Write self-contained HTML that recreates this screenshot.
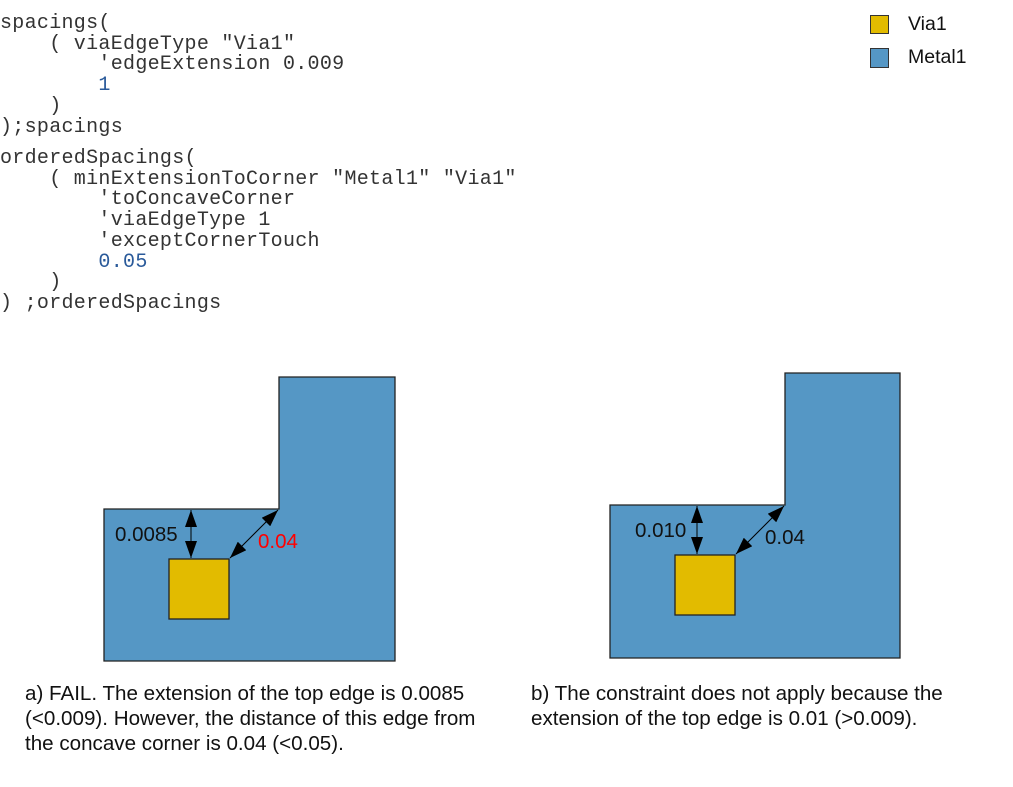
<!DOCTYPE html>
<html><head><style>
html,body{margin:0;padding:0;background:#fff;width:1013px;height:787px;overflow:hidden;position:relative}
.code{position:absolute;left:0;font-family:"Liberation Mono",monospace;font-size:20px;letter-spacing:0.3px;color:#333;white-space:pre;line-height:20.7px}
.cap{position:absolute;font-family:"Liberation Sans",sans-serif;font-size:20.6px;line-height:25px;color:#111}
.lg{position:absolute;font-family:"Liberation Sans",sans-serif;font-size:19.5px;color:#111}
.b{color:#2a5a9a}
</style></head><body>
<div class="code" style="top:14px">spacings(
    ( viaEdgeType "Via1"
        'edgeExtension 0.009
        <span class="b">1</span>
    )
);spacings</div>
<div class="code" style="top:149px">orderedSpacings(
    ( minExtensionToCorner "Metal1" "Via1"
        'toConcaveCorner
        'viaEdgeType 1
        'exceptCornerTouch
        <span class="b">0.05</span>
    )
) ;orderedSpacings</div>

<div style="position:absolute;left:870px;top:15px;width:17px;height:17px;background:#e2bb00;border:1px solid #333"></div>
<div class="lg" style="left:908px;top:13px">Via1</div>
<div style="position:absolute;left:870px;top:48px;width:17px;height:18px;background:#5597c5;border:1px solid #333"></div>
<div class="lg" style="left:908px;top:46px">Metal1</div>

<svg width="1013" height="787" style="position:absolute;left:0;top:0" xmlns="http://www.w3.org/2000/svg">
<defs>
<marker id="ah2" viewBox="0 0 10 10" refX="10" refY="5" markerWidth="17" markerHeight="12" preserveAspectRatio="none" markerUnits="userSpaceOnUse" orient="auto-start-reverse"><path d="M0,0 L10,5 L0,10 Z" fill="#000"/></marker>
</defs>
<path d="M104,509 H279 V377 H395 V661 H104 Z" fill="#5597c5" stroke="#222" stroke-width="1.3"/>
<rect x="169" y="559" width="60" height="60" fill="#e2bb00" stroke="#222" stroke-width="1.3"/>
<line x1="191" y1="510" x2="191" y2="558" stroke="#000" stroke-width="1" marker-start="url(#ah2)" marker-end="url(#ah2)"/>
<line x1="278" y1="510" x2="230" y2="558" stroke="#000" stroke-width="1" marker-start="url(#ah2)" marker-end="url(#ah2)"/>
<text x="115" y="541" font-family="Liberation Sans,sans-serif" font-size="20.5" fill="#111">0.0085</text>
<text x="258" y="548" font-family="Liberation Sans,sans-serif" font-size="20.5" fill="#f00">0.04</text>

<path d="M610,505 H785 V373 H900 V658 H610 Z" fill="#5597c5" stroke="#222" stroke-width="1.3"/>
<rect x="675" y="555" width="60" height="60" fill="#e2bb00" stroke="#222" stroke-width="1.3"/>
<line x1="697" y1="506" x2="697" y2="554" stroke="#000" stroke-width="1" marker-start="url(#ah2)" marker-end="url(#ah2)"/>
<line x1="784" y1="506" x2="736" y2="554" stroke="#000" stroke-width="1" marker-start="url(#ah2)" marker-end="url(#ah2)"/>
<text x="635" y="537" font-family="Liberation Sans,sans-serif" font-size="20.5" fill="#111">0.010</text>
<text x="765" y="544" font-family="Liberation Sans,sans-serif" font-size="20.5" fill="#111">0.04</text>
</svg>

<div class="cap" style="left:25px;top:681px">a) FAIL. The extension of the top edge is 0.0085<br>(&lt;0.009). However, the distance of this edge from<br>the concave corner is 0.04 (&lt;0.05).</div>
<div class="cap" style="left:531px;top:681px">b) The constraint does not apply because the<br>extension of the top edge is 0.01 (&gt;0.009).</div>
</body></html>
